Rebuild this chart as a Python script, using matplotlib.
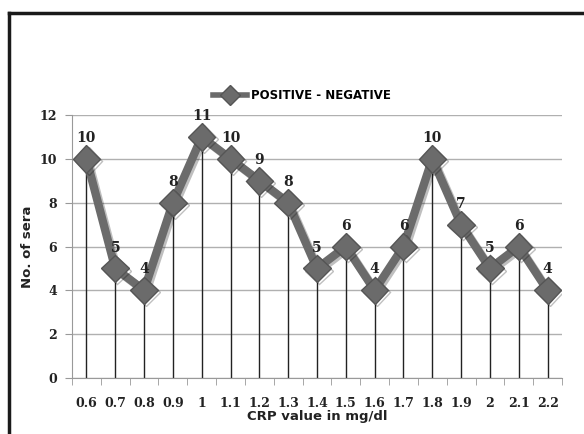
import numpy as np
import matplotlib.pyplot as plt
from matplotlib.lines import Line2D
import matplotlib.patheffects as pe

crp = ['0.6', '0.7', '0.8', '0.9', '1', '1.1', '1.2', '1.3', '1.4',
       '1.5', '1.6', '1.7', '1.8', '1.9', '2', '2.1', '2.2']
sera = [10, 5, 4, 8, 11, 10, 9, 8, 5, 6, 4, 6, 10, 7, 5, 6, 4]
yticks = [0, 2, 4, 6, 8, 10, 12]

fig = plt.figure(figsize=(5.84, 4.34), dpi=100)
ax = fig.add_axes([0.1233, 0.129, 0.839, 0.606])

x = np.arange(len(sera))
ax.vlines(x, 0, sera, color='#222222', lw=1.0, zorder=2)
line, = ax.plot(x, sera, color='#6b6b6b', lw=6, marker='D', ms=14,
                mfc='#6b6b6b', mec='#555555', zorder=3,
                label='POSITIVE - NEGATIVE',
                path_effects=[pe.SimpleLineShadow(offset=(1.5, -1.5), alpha=0.25),
                              pe.Normal()])

for xi, v in zip(x, sera):
    ax.annotate(str(v), (xi, v), xytext=(0, 10), textcoords='offset points',
                ha='center', va='bottom', fontsize=10, fontweight='bold',
                family='DejaVu Serif', color='#222222')

ax.set_xlim(-0.5, len(sera) - 0.5)
ax.set_ylim(0, 12)
ax.set_yticks(yticks)
ax.set_yticklabels([str(t) for t in yticks], family='DejaVu Serif',
                   fontweight='bold', fontsize=9, color='#222222')
ax.set_xticks(x)
ax.set_xticklabels(crp, family='DejaVu Serif', fontweight='bold',
                   fontsize=9, color='#222222')
ax.set_xticks(np.arange(len(sera) + 1) - 0.5, minor=True)
ax.tick_params(axis='x', which='major', length=0, pad=14)
ax.tick_params(axis='x', which='minor', length=5, color='#999999')
ax.tick_params(axis='y', length=5, color='#999999', pad=6)
ax.grid(axis='y', color='#b0b0b0', lw=1)
ax.set_axisbelow(True)
for s in ['top', 'right']:
    ax.spines[s].set_visible(False)
for s in ['left', 'bottom']:
    ax.spines[s].set_color('#999999')

ax.set_xlabel('CRP value in mg/dl', fontsize=9.5, fontweight='semibold',
              color='#222222', labelpad=0)
ax.set_ylabel('No. of sera', fontsize=9.5, fontweight='semibold',
              color='#222222', labelpad=4)

ax.legend(handles=[Line2D([0], [0], color='#6b6b6b', lw=4, marker='D',
                          ms=10, mfc='#6b6b6b', mec='#555555')],
          labels=['POSITIVE - NEGATIVE'], loc='lower center',
          bbox_to_anchor=(0.47, 1.01), frameon=False,
          prop={'weight': 'bold', 'size': 8.5}, handlelength=2.8,
          handletextpad=0.4)

# outer frame
fig.add_artist(Line2D([9 / 584, 9 / 584], [0, 1 - 13 / 434], color='#1a1a1a',
                      lw=2.5, transform=fig.transFigure))
fig.add_artist(Line2D([9 / 584, 1], [1 - 13 / 434, 1 - 13 / 434], color='#1a1a1a',
                      lw=2.5, transform=fig.transFigure))

fig.savefig('out.png', dpi=100)
